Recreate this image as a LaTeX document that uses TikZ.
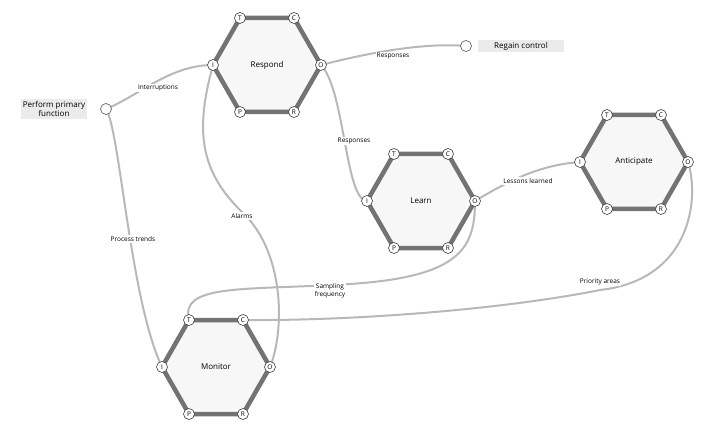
\documentclass[tikz,border=0pt]{standalone}
\usepackage{fontspec}
\setmainfont{Open Sans}
\begin{document}
\begin{tikzpicture}[x=1pt,y=-1pt,
 hexa/.style={draw=black!55,line width=4.5pt,fill=black!3,line join=miter},
 port/.style={circle,draw=black!75,fill=white,line width=0.6pt,inner sep=0pt,minimum size=11pt,font=\fontsize{6.5}{7}\selectfont},
 end/.style={circle,draw=black!60,fill=white,line width=0.7pt,inner sep=0pt,minimum size=11pt},
 box/.style={fill=black!8,font=\fontsize{8}{9.5}\selectfont,align=center,inner sep=2pt},
 fname/.style={font=\fontsize{8}{9}\selectfont},
 lbl/.style={fill=white,inner sep=1pt,font=\fontsize{6.5}{7.5}\selectfont,align=center},
 link/.style={draw=black!28,line width=2pt}]
\useasboundingbox (0,0) rectangle (710,433);
\newcommand{\fmod}[4]{%
 \fill[black!3] (#1-54,#2) -- (#1-27,#2-47) -- (#1+27,#2-47) -- (#1+54,#2) -- (#1+27,#2+47) -- (#1-27,#2+47) -- cycle;
 \draw[hexa,fill=none] (#1-54,#2) -- (#1-27,#2-47) -- (#1+27,#2-47) -- (#1+54,#2) -- (#1+27,#2+47) -- (#1-27,#2+47) -- cycle;
 \node[fname] (#3) at (#1,#2) {#4};
 \coordinate (#3I) at (#1-54,#2); \coordinate (#3O) at (#1+54,#2);
 \coordinate (#3T) at (#1-27,#2-47); \coordinate (#3C) at (#1+27,#2-47);
 \coordinate (#3P) at (#1-27,#2+47); \coordinate (#3R) at (#1+27,#2+47);
}
\fmod{267}{65}{res}{Respond}
\fmod{421}{201}{lea}{Learn}
\fmod{634}{162}{ant}{Anticipate}
\fmod{216}{367}{mon}{Monitor}
\node[box] (ppf) at (54,109) {Perform primary\\function};
\coordinate (ppfc) at (106,109);
\node[box,minimum width=86pt] (rc) at (521,46) {Regain control};
\coordinate (rcc) at (466,46);
% links
\draw[link] (ppfc) .. controls (140,95) and (170,65) .. (resI);
\draw[link] (ppfc) .. controls (120,130) and (130,300) .. (monI);
\draw[link] (resO) .. controls (360,55) and (420,42) .. (rcc);
\draw[link] (resO) .. controls (345,90) and (345,200) .. (leaI);
\draw[link] (resI) .. controls (195,130) and (200,170) .. (240,210) .. controls (285,250) and (285,330) .. (monO);
\draw[link] (leaO) .. controls (475,250) and (460,280) .. (330,285) .. controls (240,290) and (180,285) .. (monT);
\draw[link] (antO) .. controls (700,200) and (690,280) .. (600,290) .. controls (500,310) and (350,321) .. (monC);
\draw[link] (leaO) .. controls (510,180) and (540,165) .. (antI);
% labels
\node[lbl] (l1) at (158,88) {Interruptions};
\node[lbl] (l2) at (133,239) {Process trends};
\node[lbl] (l3) at (393,56) {Responses};
\node[lbl] (l4) at (354,141) {Responses};
\node[lbl] (l5) at (242,216) {Alarms};
\node[lbl] (l6) at (330,291) {Sampling\\frequency};
\node[lbl] (l7) at (600,282) {Priority areas};
\node[lbl] (l8) at (528,181) {Lessons learned};
% ports
\foreach \m in {res,lea,ant,mon}{
 \foreach \p in {I,O,T,C,P,R}{ \node[port] (\m\p n) at (\m\p) {\p}; }
}
\node[end] (ppfe) at (ppfc) {};
\node[end] (rce) at (rcc) {};
\end{tikzpicture}
\end{document}
